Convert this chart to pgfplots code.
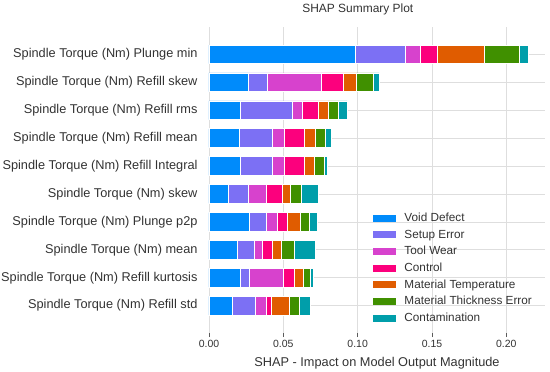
\documentclass[border=0pt]{standalone}
\usepackage{fontspec}
\setmainfont{Liberation Sans}
\usepackage{pgfplots}
\pgfplotsset{compat=1.18}
\definecolor{cVoid}{RGB}{0,139,251}
\definecolor{cSetup}{RGB}{124,112,244}
\definecolor{cTool}{RGB}{215,66,205}
\definecolor{cControl}{RGB}{252,0,125}
\definecolor{cTemp}{RGB}{224,92,0}
\definecolor{cThick}{RGB}{64,144,0}
\definecolor{cCont}{RGB}{0,158,170}
\definecolor{gridc}{RGB}{222,222,222}
\definecolor{txt}{RGB}{50,50,50}
\begin{document}
\begin{tikzpicture}
\useasboundingbox (0,0) rectangle (550bp,372bp);
\begin{axis}[
  at={(209bp,39bp)}, anchor=south west,
  scale only axis, width=336bp, height=306bp,
  xbar stacked, bar width=0.67,
  xmin=0, xmax=0.226, ymin=-0.98, ymax=9.98,
  axis line style={draw=none},
  xtick={0,0.05,0.1,0.15,0.2},
  xticklabel style={/pgf/number format/fixed,/pgf/number format/fixed zerofill,/pgf/number format/precision=2, font=\fontsize{10.5}{12}\selectfont, text=txt},
  /pgf/number format/assume math mode=true,
  scaled x ticks=false,
  ytick={0,...,9},
  yticklabels={Spindle Torque (Nm) Refill std, Spindle Torque (Nm) Refill kurtosis, Spindle Torque (Nm) mean, Spindle Torque (Nm) Plunge p2p, Spindle Torque (Nm) skew, Spindle Torque (Nm) Refill Integral, Spindle Torque (Nm) Refill mean, Spindle Torque (Nm) Refill rms, Spindle Torque (Nm) Refill skew, Spindle Torque (Nm) Plunge min},
  yticklabel style={font=\fontsize{12.8}{15}\selectfont, text=txt, xshift=-4bp},
  xtick pos=lower, ytick pos=left,
  tick align=outside, major tick length=4bp,
  xtick style={draw=txt!80, line width=0.6pt},
  ytick style={draw=none},
  grid=major, major grid style={draw=gridc, line width=0.7pt},
  xlabel={SHAP - Impact on Model Output Magnitude},
  xlabel style={at={(axis description cs:0.5,0)}, anchor=center, yshift=-30bp, font=\fontsize{12.8}{15}\selectfont, text=txt},
  title={SHAP Summary Plot},
  title style={at={(axis description cs:0.443,1)}, anchor=center, yshift=11.5bp, font=\fontsize{12}{14}\selectfont, text=txt},
  legend style={at={(0.48,0.408)}, anchor=north west, draw=none, fill=none,
    font=\fontsize{11.8}{13}\selectfont, text=txt, legend cell align=left,
    nodes={inner ysep=3.1bp, text height=8bp, text depth=2.5bp},
    /tikz/every odd column/.append style={column sep=6bp}},
  legend image code/.code={\fill[#1,draw=none] (0bp,-3bp) rectangle (23bp,4bp);},
  every axis plot/.append style={draw=white, line width=0.6pt},
]
\addplot[fill=cVoid] coordinates {(0.0157,0) (0.0213,1) (0.0188,2) (0.0269,3) (0.0131,4) (0.0211,5) (0.0202,6) (0.0213,7) (0.0262,8) (0.0985,9)};
\addplot[fill=cSetup] coordinates {(0.0153,0) (0.0061,1) (0.0115,2) (0.0117,3) (0.0136,4) (0.0216,5) (0.0225,6) (0.0344,7) (0.0131,8) (0.0332,9)};
\addplot[fill=cTool] coordinates {(0.0076,0) (0.0229,1) (0.0056,2) (0.0074,3) (0.0119,4) (0.0080,5) (0.0080,6) (0.0072,7) (0.0365,8) (0.0106,9)};
\addplot[fill=cControl] coordinates {(0.0036,0) (0.0074,1) (0.0068,2) (0.0065,3) (0.0108,4) (0.0137,5) (0.0137,6) (0.0109,7) (0.0148,8) (0.0111,9)};
\addplot[fill=cTemp] coordinates {(0.0121,0) (0.0056,1) (0.0060,2) (0.0090,3) (0.0056,4) (0.0063,5) (0.0072,6) (0.0063,7) (0.0086,8) (0.0321,9)};
\addplot[fill=cThick] coordinates {(0.0063,0) (0.0051,1) (0.0090,2) (0.0058,3) (0.0074,4) (0.0067,5) (0.0065,6) (0.0067,7) (0.0116,8) (0.0229,9)};
\addplot[fill=cCont] coordinates {(0.0072,0) (0.0016,1) (0.0139,2) (0.0054,3) (0.0110,4) (0.0025,5) (0.0043,6) (0.0061,7) (0.0036,8) (0.0063,9)};
\legend{Void Defect, Setup Error, Tool Wear, Control, Material Temperature, Material Thickness Error, Contamination}
\end{axis}
\end{tikzpicture}
\end{document}
